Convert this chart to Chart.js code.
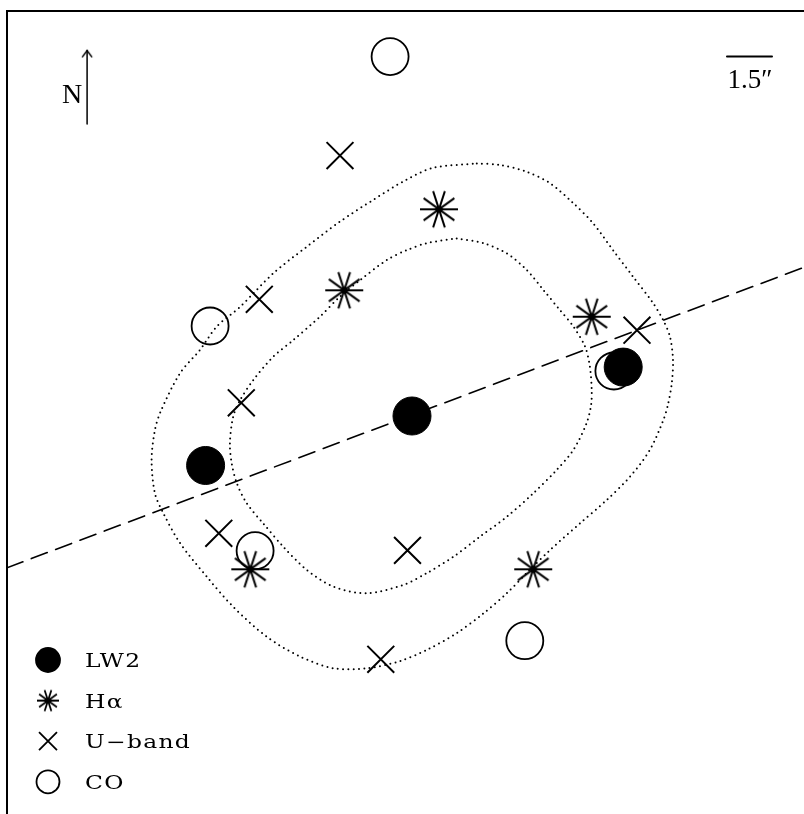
<!DOCTYPE html>
<html>
<head>
<meta charset="utf-8">
<script src="https://cdn.jsdelivr.net/npm/chart.js@4.4.1/dist/chart.umd.min.js"></script>
<style>
  html, body { margin: 0; padding: 0; background: #fff; }
  #wrap { width: 804px; height: 814px; }
</style>
</head>
<body>
<div id="wrap"><canvas id="map"></canvas></div>
<script>
// offsets in arcsec from the central LW2 peak (x to the right, y up)
const lw2X = [0.00, -6.88, 7.04];
const lw2Y = [0.00, -1.65, 1.63];

const haX = [0.90, -2.26, 5.99, -5.39, 4.04];
const haY = [6.89, 4.19, 3.31, -5.11, -5.11];

const uX = [-2.40, -5.09, -5.69, -6.44, -0.15, -1.04, 7.50];
const uY = [8.68, 3.89, 0.44, -3.91, -4.48, -8.11, 2.86];

const coX = [-0.73, -6.73, -5.23, 3.76, 6.73];
const coY = [11.98, 3.00, -4.49, -7.49, 1.50];

// dotted contours, traced clockwise from the top
const outerX = [2.16, 2.93, 3.82, 4.60, 5.37, 6.03, 6.70, 7.37, 8.03, 8.37, 8.60, 8.70, 8.66, 8.53,
  8.38, 7.93, 7.27, 6.49, 5.60, 4.60, 3.82, 3.16, 2.38, 1.49, 0.49, -0.40, -1.51, -2.62, -3.73,
  -4.84, -5.96, -6.84, -7.73, -8.29, -8.57, -8.68, -8.57, -8.37, -7.73, -7.07, -6.51, -5.73,
  -4.62, -3.51, -2.40, -1.30, -0.20, 0.70, 2.16];
const outerY = [8.42, 8.37, 8.14, 7.76, 7.10, 6.43, 5.53, 4.64, 3.77, 3.20, 2.64, 1.87, 1.10, 0.37,
  -0.13, -1.13, -2.02, -2.80, -3.58, -4.47, -5.24, -5.91, -6.58, -7.24, -7.80, -8.17, -8.41, -8.41, -8.02,
  -7.36, -6.36, -5.36, -4.24, -3.24, -2.58, -1.47, -0.47, 0.17, 1.43, 2.20, 2.98, 3.64,
  4.76, 5.64, 6.48, 7.20, 7.87, 8.27, 8.42];

const innerX = [1.49, 2.38, 3.16, 3.82, 4.38, 4.93, 5.38, 5.77, 5.93, 5.99, 5.97, 5.82, 5.38, 4.82,
  4.04, 3.16, 2.27, 1.38, 0.49, -0.29, -1.51, -2.62, -3.51, -4.29, -4.96, -5.51, -5.84, -6.01,
  -6.07, -5.96, -5.73, -5.29, -4.62, -3.96, -3.07, -2.40, -1.73, -0.84, -0.17, 0.49, 1.49];
const innerY = [5.92, 5.76, 5.42, 4.87, 4.20, 3.53, 2.98, 2.31, 1.64, 0.87, 0.37, -0.24, -1.13, -1.80,
  -2.58, -3.36, -4.02, -4.69, -5.24, -5.63, -5.91, -5.69, -5.13, -4.36, -3.58, -2.91, -2.24, -1.58,
  -0.91, -0.02, 0.53, 1.20, 1.98, 2.53, 3.31, 3.98, 4.53, 5.20, 5.53, 5.76, 5.92];

// major axis, north arrow and 1.5" scale bar
const axisX = [-13.50, 13.07];
const axisY = [-5.06, 4.96];
const northX = [-10.83, -10.83];
const northY = [9.73, 12.18];
const barX = [10.50, 12.00];
const barY = [11.98, 11.98];

const seriesLabels = ['LW2', 'H\u03b1', 'U\u2212band', 'CO'];
const xRange = [-13.5, 13.067];
const yRange = [-13.267, 13.5];

const pts = (xs, ys) => xs.map((x, i) => ({ x: x, y: ys[i] }));

// 10-ray asterisk used for the H-alpha knots
function asterisk(r, lw) {
  const c = document.createElement('canvas');
  const s = Math.ceil(2 * r + lw + 2);
  c.width = s;
  c.height = s;
  const g = c.getContext('2d');
  g.strokeStyle = '#000';
  g.lineWidth = lw;
  g.translate(s / 2, s / 2);
  g.beginPath();
  for (let k = 0; k < 5; k++) {
    const a = k * Math.PI / 5;
    g.moveTo(-r * Math.cos(a), -r * Math.sin(a));
    g.lineTo(r * Math.cos(a), r * Math.sin(a));
  }
  g.stroke();
  return c;
}

// arrow head, tip sits at the canvas centre
function arrowHead() {
  const c = document.createElement('canvas');
  c.width = 16;
  c.height = 16;
  const g = c.getContext('2d');
  g.strokeStyle = '#000';
  g.lineWidth = 1.5;
  g.beginPath();
  g.moveTo(3, 14.6);
  g.lineTo(8, 8);
  g.lineTo(13, 14.6);
  g.stroke();
  return c;
}

const starBig = asterisk(19, 2);
const starSmall = asterisk(11, 1.8);

const serif = '"Liberation Serif", "DejaVu Serif", serif';

const legendPlugin = {
  id: 'mapLegend',
  afterDraw(chart) {
    const ctx = chart.ctx;
    const marks = [
      { pointStyle: 'circle', radius: 12, fill: '#000' },
      { pointStyle: starSmall, radius: 11, fill: 'rgba(0,0,0,0)' },
      { pointStyle: 'crossRot', radius: 12.7, fill: 'rgba(0,0,0,0)' },
      { pointStyle: 'circle', radius: 11.5, fill: 'rgba(0,0,0,0)' }
    ];
    ctx.save();
    marks.forEach((m, i) => {
      const y = 660 + i * 40.6;
      ctx.fillStyle = m.fill;
      ctx.strokeStyle = '#000';
      ctx.lineWidth = 1.8;
      Chart.helpers.drawPoint(ctx, { pointStyle: m.pointStyle, radius: m.radius, borderWidth: 1.8, rotation: 0 }, 48, y);
      // wide roman lettering, stretched a little sideways
      ctx.save();
      ctx.translate(85, y + 7);
      ctx.scale(1.3, 1);
      ctx.fillStyle = '#000';
      ctx.font = '18px "DejaVu Serif", serif';
      ctx.letterSpacing = '1px';
      ctx.textBaseline = 'alphabetic';
      ctx.textAlign = 'left';
      ctx.fillText(seriesLabels[i], 0, 0);
      ctx.restore();
    });

    // "N" beside the arrow and the scale bar label
    const sx = chart.scales.x, sy = chart.scales.y;
    ctx.fillStyle = '#000';
    ctx.font = '28px ' + serif;
    ctx.textAlign = 'center';
    ctx.textBaseline = 'alphabetic';
    ctx.fillText('N', sx.getPixelForValue(-11.33), sy.getPixelForValue(10.43));
    ctx.font = '27px ' + serif;
    ctx.fillText('1.5\u2033', sx.getPixelForValue(11.27), sy.getPixelForValue(10.93));
    ctx.restore();
  }
};

const marker = (label, data, style, radius, fill, width) => ({
  label: label,
  data: data,
  pointStyle: style,
  pointRadius: radius,
  pointBackgroundColor: fill,
  pointBorderColor: '#000',
  pointBorderWidth: width,
  showLine: false
});

const curve = (data, dash, width, tension) => ({
  data: data,
  showLine: true,
  borderColor: '#000',
  borderWidth: width,
  borderDash: dash,
  borderCapStyle: 'round',
  tension: tension,
  pointRadius: 0,
  fill: false
});

const northLine = curve(pts(northX, northY), [], 1.5, 0);
northLine.pointStyle = arrowHead();
northLine.pointRadius = [0, 4];

new Chart(document.getElementById('map'), {
  type: 'scatter',
  data: {
    datasets: [
      marker(seriesLabels[0], pts(lw2X, lw2Y), 'circle', 19, '#000', 1),
      marker(seriesLabels[1], pts(haX, haY), starBig, 19, 'rgba(0,0,0,0)', 2),
      marker(seriesLabels[2], pts(uX, uY), 'crossRot', 19, 'rgba(0,0,0,0)', 2),
      marker(seriesLabels[3], pts(coX, coY), 'circle', 18.5, 'rgba(0,0,0,0)', 1.8),
      curve(pts(outerX, outerY), [0, 5.3], 2, 0.3),
      curve(pts(innerX, innerY), [0, 5.3], 2, 0.3),
      curve(pts(axisX, axisY), [17, 9], 1.6, 0),
      northLine,
      curve(pts(barX, barY), [], 2, 0)
    ]
  },
  options: {
    responsive: true,
    maintainAspectRatio: false,
    animation: false,
    layout: { autoPadding: false, padding: { left: 7, top: 11, right: 0, bottom: 0 } },
    plugins: {
      legend: { display: false },
      tooltip: { enabled: false }
    },
    scales: {
      x: {
        type: 'linear',
        position: 'top',
        min: xRange[0],
        max: xRange[1],
        grid: { display: false, drawTicks: false },
        ticks: { display: false },
        border: { display: true, color: '#000', width: 2 }
      },
      y: {
        type: 'linear',
        position: 'left',
        min: yRange[0],
        max: yRange[1],
        grid: { display: false, drawTicks: false },
        ticks: { display: false },
        border: { display: true, color: '#000', width: 2 }
      }
    }
  },
  plugins: [legendPlugin]
});
</script>
</body>
</html>
